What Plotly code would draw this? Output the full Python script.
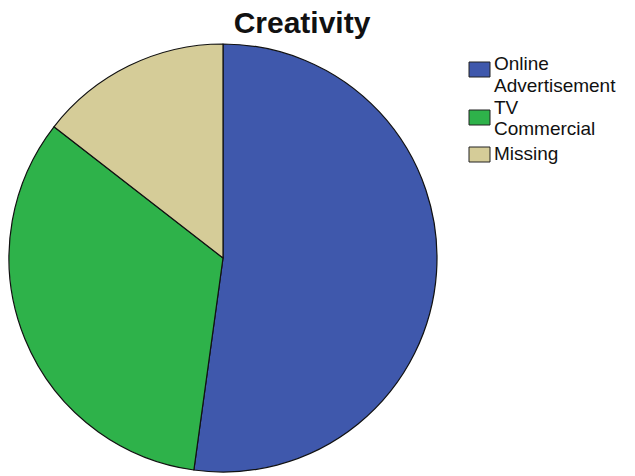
import plotly.graph_objects as go

# Response counts for the "Creativity" question
categories = ["Online Advertisement", "TV Commercial", "Missing"]
legend_lines = [["Online", "Advertisement"], ["TV", "Commercial"], ["Missing"]]
counts = [36, 23, 10]
colors = ["#3F58AC", "#2EB24A", "#D5CC98"]

W, H = 635, 476
FONT = "Liberation Sans, Arial, sans-serif"

fig = go.Figure(
    go.Pie(
        labels=categories,
        values=counts,
        sort=False,
        direction="clockwise",
        rotation=0,
        textinfo="none",
        hoverinfo="label+value+percent",
        showlegend=False,
        marker=dict(colors=colors, line=dict(color="#111111", width=1.2)),
        domain=dict(x=[9 / W, 437 / W], y=[(H - 472) / H, (H - 44) / H]),
    )
)

# Legend drawn by hand for a compact, SPSS-like line spacing
swatch_x = (469, 490)
swatch_top = [62, 110, 147]
swatch_h = 15
line_baselines = [[71, 92], [115, 136], [161]]
text_x = 493

for color, top in zip(colors, swatch_top):
    fig.add_shape(
        type="rect",
        xref="paper", yref="paper",
        x0=swatch_x[0] / W, x1=swatch_x[1] / W,
        y0=1 - top / H, y1=1 - (top + swatch_h) / H,
        fillcolor=color,
        line=dict(color="#222222", width=1),
    )

for lines, baselines in zip(legend_lines, line_baselines):
    for txt, base in zip(lines, baselines):
        fig.add_annotation(
            text=txt,
            xref="paper", yref="paper",
            x=text_x / W, xanchor="left",
            y=1 - (base - 7) / H, yanchor="middle",
            showarrow=False,
            borderpad=0,
            font=dict(family=FONT, size=19, color="#111111"),
        )

fig.update_layout(
    width=W,
    height=H,
    margin=dict(l=0, r=0, t=0, b=0),
    paper_bgcolor="white",
    plot_bgcolor="white",
    title=dict(
        text="<b>Creativity</b>",
        x=302 / W,
        xanchor="center",
        y=1 - 22 / H,
        yanchor="middle",
        font=dict(family=FONT, size=30, color="#111111"),
    ),
    showlegend=False,
)

fig.write_html("out.html")
